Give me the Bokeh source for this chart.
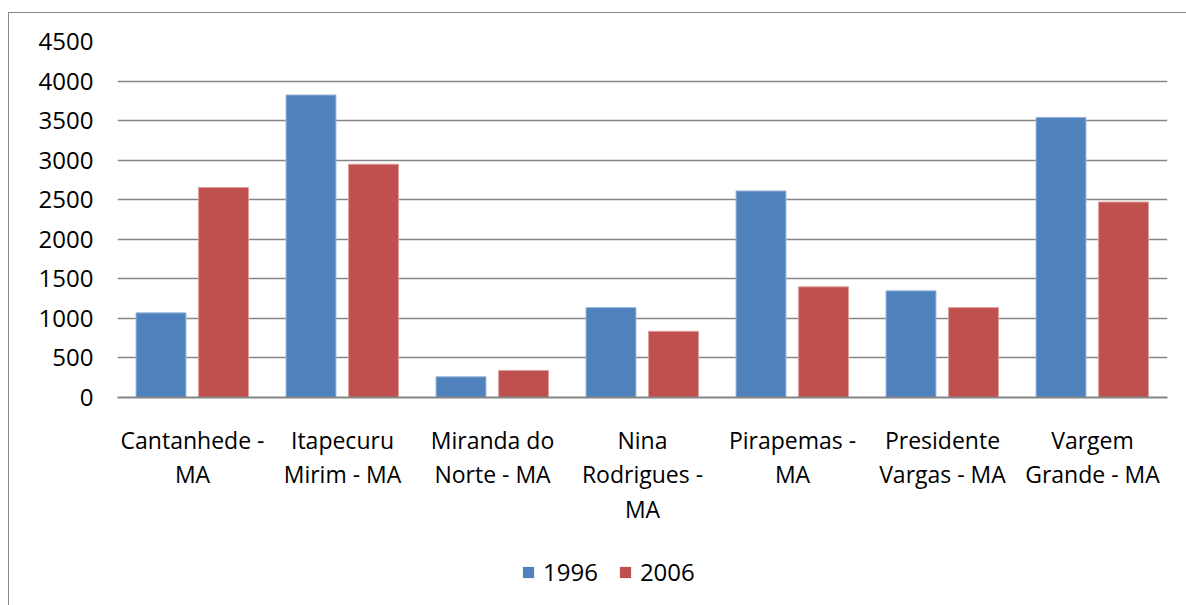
from bokeh.plotting import figure
from bokeh.layouts import column
from bokeh.models import FactorRange, Range1d, ColumnDataSource, Legend, LegendItem, FixedTicker
from bokeh.transform import dodge
from bokeh.embed import file_html
from bokeh.resources import INLINE

categories = ["Cantanhede -\nMA", "Itapecuru\nMirim - MA", "Miranda do\nNorte - MA",
              "Nina\nRodrigues -\nMA", "Pirapemas -\nMA", "Presidente\nVargas - MA",
              "Vargem\nGrande - MA"]
values_1996 = [1070, 3824, 262, 1137, 2611, 1348, 3541]
values_2006 = [2654, 2949, 342, 837, 1399, 1137, 2471]
series = ["1996", "2006"]
colors = ["#4F81BD", "#C0504D"]
edges = ["#9DB9DC", "#DDA09E"]
y_ticks = [0, 500, 1000, 1500, 2000, 2500, 3000, 3500, 4000, 4500]

FONT = "Open Sans"

src = ColumnDataSource(dict(cat=categories, v1996=values_1996, v2006=values_2006))

p = figure(x_range=FactorRange(*categories, range_padding=0), y_range=Range1d(0, 4500),
           width=1177, height=540, output_backend="svg", toolbar_location=None,
           min_border_left=108, min_border_right=19, min_border_top=28, min_border_bottom=156)
p.outline_line_color = None
p.background_fill_color = "white"
p.border_fill_color = "white"

offsets = [-0.21, 0.207]
for name, off, c, e in zip(series, offsets, colors, edges):
    p.vbar(x=dodge("cat", off, range=p.x_range), top="v" + name, width=0.333, source=src,
           fill_color=c, line_color=e, line_width=1)

p.xgrid.grid_line_color = None
p.ygrid.grid_line_color = "#868686"
p.ygrid.grid_line_width = 1.5
p.yaxis.ticker = FixedTicker(ticks=y_ticks)
p.ygrid.ticker = FixedTicker(ticks=y_ticks)

p.yaxis.axis_line_color = None
p.yaxis.major_tick_line_color = None
p.yaxis.minor_tick_line_color = None
p.yaxis.major_label_standoff = 18
p.yaxis.major_label_text_font = FONT
p.yaxis.major_label_text_font_size = "24px"
p.yaxis.major_label_text_color = "black"

p.xaxis.axis_line_color = "#868686"
p.xaxis.axis_line_width = 2
p.xaxis.major_tick_line_color = None
p.xaxis.minor_tick_line_color = None
p.xaxis.major_label_standoff = 20
p.xaxis.major_label_text_font = FONT
p.xaxis.major_label_text_font_size = "23px"
p.xaxis.major_label_text_line_height = 1.08
p.xaxis.major_label_text_color = "black"

# legend strip below the chart (its bars lie outside the strip's visible range)
pl = figure(width=1177, height=52, output_backend="svg", toolbar_location=None,
            x_range=FactorRange(*categories, range_padding=0), y_range=Range1d(100000, 200000),
            min_border_left=0, min_border_right=0, min_border_top=0, min_border_bottom=0)
pl.axis.visible = False
pl.grid.visible = False
pl.outline_line_color = None
pl.border_fill_color = "white"
items = []
for name, c in zip(series, colors):
    r = pl.vbar(x="cat", top="v" + name, width=0.3, source=src, fill_color=c, line_color=None)
    items.append(LegendItem(label=name, renderers=[r]))
legend = Legend(items=items, orientation="horizontal", location=(404, 17),
                glyph_width=14, glyph_height=14, label_standoff=8, spacing=20,
                padding=0, margin=0, border_line_color=None, background_fill_alpha=0,
                label_text_font=FONT, label_text_font_size="24px", label_text_color="black")
pl.add_layout(legend, "center")

layout = column(p, pl, spacing=0,
                styles={"border-left": "1px solid #868686", "border-top": "1px solid #868686",
                        "margin-top": "12px", "margin-left": "8px"})

open("out.html", "w").write(file_html(layout, INLINE))
